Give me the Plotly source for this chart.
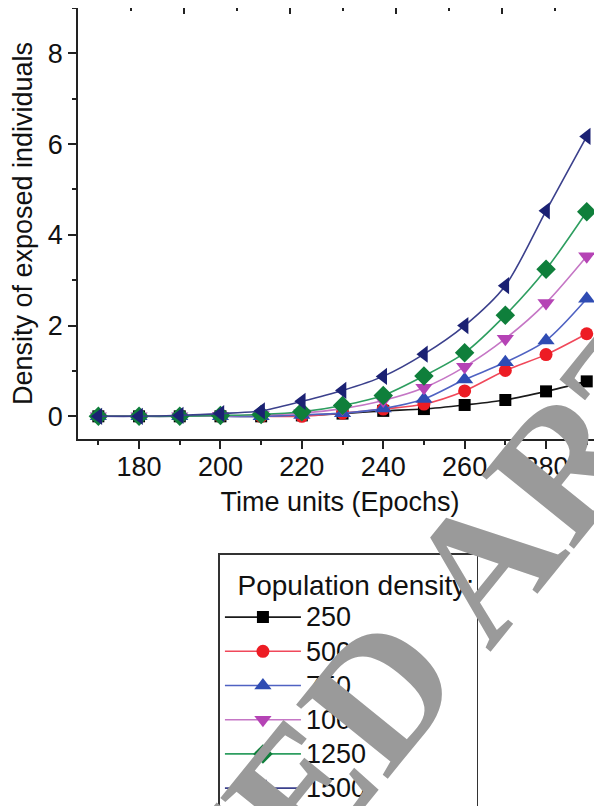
import plotly.graph_objects as go

# ---- data ----
time_units = [170, 180, 190, 200, 210, 220, 230, 240, 250, 260, 270, 280, 290]
series_names = ["250", "500", "750", "1000", "1250", "1500"]
d250 = [0.0, 0.0, 0.0, 0.0, 0.0, 0.02, 0.06, 0.12, 0.16, 0.25, 0.36, 0.55, 0.77]
d500 = [0.0, 0.0, 0.0, 0.0, 0.0, 0.0, 0.07, 0.16, 0.27, 0.56, 1.01, 1.36, 1.82]
d750 = [0.0, 0.0, 0.0, 0.0, 0.0, 0.03, 0.07, 0.17, 0.38, 0.81, 1.19, 1.67, 2.59]
d1000 = [0.0, 0.0, 0.0, 0.01, 0.03, 0.07, 0.17, 0.35, 0.63, 1.09, 1.71, 2.50, 3.53]
d1250 = [0.0, 0.0, 0.0, 0.02, 0.04, 0.10, 0.24, 0.46, 0.89, 1.40, 2.23, 3.24, 4.51]
d1500 = [0.0, 0.0, 0.02, 0.06, 0.12, 0.33, 0.57, 0.88, 1.37, 2.00, 2.88, 4.53, 6.17]
series_values = [d250, d500, d750, d1000, d1250, d1500]

marker_colors = ["#000000", "#ED1C24", "#2F4CB3", "#B543B5", "#0F7F3B", "#1B2173"]
line_colors = ["#1a1a1a", "#F0485A", "#4F62C2", "#C576C5", "#2E9E60", "#3B408C"]
symbols = ["square", "circle", "triangle-up", "triangle-down", "diamond", "triangle-left"]
sizes = [12, 13, 15, 15, 15, 15]

FONT = "Liberation Sans, Arial, sans-serif"

fig = go.Figure()
for name, vals, mc, lc, sym, sz in zip(series_names, series_values, marker_colors,
                                       line_colors, symbols, sizes):
    fig.add_trace(go.Scatter(
        x=time_units, y=vals, name="<span style='font-size:27px'>%s</span>" % name,
        mode="lines+markers",
        line=dict(color=lc, width=1.6, shape="spline", smoothing=0.8),
        marker=dict(symbol=sym, size=sz, color=mc, line=dict(width=0)),
        cliponaxis=False,
    ))

# invisible helper traces so the frame axes (top / right) are drawn
fig.add_trace(go.Scatter(x=[None], y=[None], xaxis="x2", yaxis="y", showlegend=False,
                         hoverinfo="skip"))
fig.add_trace(go.Scatter(x=[None], y=[None], xaxis="x", yaxis="y2", showlegend=False,
                         hoverinfo="skip"))

# the page body adds an 8 px offset, so the figure is sized to end at the window edge
fig.update_layout(
    width=594, height=798,
    margin=dict(l=70, r=0, t=0, b=367, autoexpand=False),
    plot_bgcolor="white", paper_bgcolor="white",
    font=dict(family=FONT, color="#111111", size=27),
    xaxis=dict(
        range=[165, 293.75], dtick=20, tick0=180,
        showgrid=False, zeroline=False,
        showline=True, linecolor="#222222", linewidth=1.5,
        ticks="outside", ticklen=8, tickwidth=1.5, tickcolor="#222222",
        minor=dict(dtick=10, tick0=170, ticks="outside", ticklen=4, tickwidth=1.5,
                   tickcolor="#222222", showgrid=False),
        tickfont=dict(size=27, family=FONT), ticklabelstandoff=-5,
        title=dict(text="Time units (Epochs)", font=dict(size=27, family=FONT), standoff=11),
        automargin=False,
    ),
    yaxis=dict(
        range=[-0.5, 9], dtick=2, tick0=0,
        showgrid=False, zeroline=False,
        showline=True, linecolor="#222222", linewidth=1.5,
        ticks="outside", ticklen=8, tickwidth=1.5, tickcolor="#222222",
        minor=dict(dtick=1, tick0=0, ticks="outside", ticklen=4, tickwidth=1.5,
                   tickcolor="#222222", showgrid=False),
        tickfont=dict(size=27, family=FONT),
        title=dict(text="Density of exposed individuals", font=dict(size=27, family=FONT),
                   standoff=9),
        automargin=False,
    ),
    xaxis2=dict(
        overlaying="x", side="top", anchor="y", range=[0, 524 / 53.0],
        tickvals=[2, 4, 6, 8], ticks="inside", ticklen=6, tickwidth=1.5, tickcolor="#222222",
        minor=dict(tickvals=[1, 3, 5, 7, 9], ticks="inside", ticklen=3, tickwidth=1.5,
                   tickcolor="#222222"),
        showticklabels=False, showgrid=False, zeroline=False,
        showline=True, linecolor="#222222", linewidth=1.5,
    ),
    yaxis2=dict(
        overlaying="y", side="right", anchor="x", range=[0, 431 / 86.3],
        tickvals=[1, 2, 3, 4], ticks="inside", ticklen=4, tickwidth=1.5, tickcolor="#333333",
        showticklabels=False, showgrid=False, zeroline=False, showline=False,
    ),
    legend=dict(
        x=0.268, y=-0.265, xanchor="left", yanchor="top",
        bordercolor="#333333", borderwidth=1.5, bgcolor="white",
        title=dict(text="<span style='font-size:28px'>&nbsp;&nbsp;Population density:</span>",
                   font=dict(size=31, family=FONT)),
        font=dict(size=24, family=FONT),
        itemwidth=76, tracegroupgap=0,
    ),
    showlegend=True,
)

fig.add_annotation(
    text="<b>RETRACTED ARTICLE</b>", xref="paper", yref="paper",
    x=0.484, y=-0.724, xanchor="center", yanchor="middle",
    textangle=-51, showarrow=False,
    font=dict(family="Liberation Serif, Times New Roman, serif", size=180, color="#9a9a9a"),
)

fig.write_html("out.html")
